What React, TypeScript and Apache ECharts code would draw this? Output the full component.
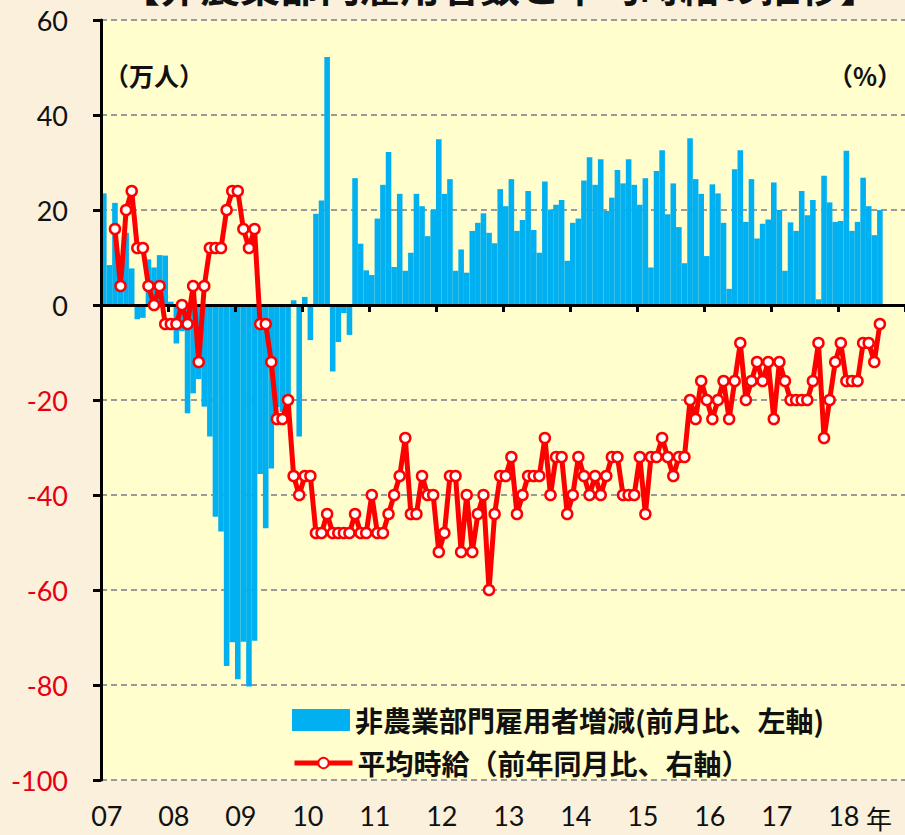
import React, { useEffect, useRef } from 'react';
import * as echarts from 'echarts';

// Year labels of the category axis (each year = 12 monthly categories, Jan 2007 - Dec 2018)
const yearLabels = ['07', '08', '09', '10', '11', '12', '13', '14', '15', '16', '17', '18'];

// 非農業部門雇用者増減 (前月比, 万人), Jan 2007 - Aug 2018
const payrollChange = [
  23.5, 8.4, 21.5, 8.0, 15.2, 7.7, -3.0, -2.7, 9.6, 7.9, 10.5, 10.4,
  0.7, -8.1, -5.5, -22.8, -18.6, -15.6, -21.4, -27.7, -44.6, -47.7, -76.0, -71.0,
  -78.8, -70.9, -80.3, -70.7, -35.6, -47.0, -34.4, -21.5, -22.5, -20.5, 1.0, -27.7,
  1.7, -7.4, 19.2, 22.0, 52.2, -14.0, -7.8, -1.7, -6.3, 26.7, 12.9, 7.3,
  6.3, 18.2, 25.3, 32.2, 8.0, 23.4, 7.2, 11.0, 23.4, 20.8, 14.5, 20.0,
  34.9, 23.4, 26.5, 7.2, 11.7, 6.8, 15.6, 17.3, 19.3, 15.2, 13.0, 24.4,
  20.8, 26.5, 15.6, 17.9, 24.0, 15.8, 11.0, 26.0, 20.1, 21.1, 22.1, 9.3,
  17.3, 18.2, 26.2, 31.1, 25.3, 30.7, 19.8, 22.6, 28.4, 25.6, 30.7, 25.3,
  21.1, 26.7, 7.9, 28.2, 32.6, 19.1, 25.6, 16.4, 8.8, 35.1, 26.5, 23.4,
  10.3, 25.4, 23.5, 17.3, 3.4, 28.6, 32.6, 17.5, 26.5, 14.0, 17.1, 18.0,
  25.8, 20.0, 7.2, 17.4, 15.6, 24.0, 18.9, 22.1, 1.2, 27.2, 21.6, 17.5,
  17.7, 32.5, 15.6, 17.5, 26.8, 20.8, 14.7, 20.0,
];

// 平均時給 (前年同月比, %), Jan 2007 - Aug 2018 (no value for the first two months)
const hourlyWageGrowth = [
  null, null, 3.4, 3.1, 3.5, 3.6, 3.3, 3.3, 3.1, 3.0, 3.1, 2.9,
  2.9, 2.9, 3.0, 2.9, 3.1, 2.7, 3.1, 3.3, 3.3, 3.3, 3.5, 3.6,
  3.6, 3.4, 3.3, 3.4, 2.9, 2.9, 2.7, 2.4, 2.4, 2.5, 2.1, 2.0,
  2.1, 2.1, 1.8, 1.8, 1.9, 1.8, 1.8, 1.8, 1.8, 1.9, 1.8, 1.8,
  2.0, 1.8, 1.8, 1.9, 2.0, 2.1, 2.3, 1.9, 1.9, 2.1, 2.0, 2.0,
  1.7, 1.8, 2.1, 2.1, 1.7, 2.0, 1.7, 1.9, 2.0, 1.5, 1.9, 2.1,
  2.1, 2.2, 1.9, 2.0, 2.1, 2.1, 2.1, 2.3, 2.0, 2.2, 2.2, 1.9,
  2.0, 2.2, 2.1, 2.0, 2.1, 2.0, 2.1, 2.2, 2.2, 2.0, 2.0, 2.0,
  2.2, 1.9, 2.2, 2.2, 2.3, 2.2, 2.1, 2.2, 2.2, 2.5, 2.4, 2.6,
  2.5, 2.4, 2.5, 2.6, 2.4, 2.6, 2.8, 2.5, 2.6, 2.7, 2.6, 2.7,
  2.4, 2.7, 2.6, 2.5, 2.5, 2.5, 2.5, 2.6, 2.8, 2.3, 2.5, 2.7,
  2.8, 2.6, 2.6, 2.6, 2.8, 2.8, 2.7, 2.9,
];

const barName = '非農業部門雇用者増減(前月比、左軸)';
const lineName = '平均時給（前年同月比、右軸）';
const titleText = '【非農業部門雇用者数と平均時給の推移】';
const leftUnit = '（万人）';
const rightUnit = '（%）';
const yearSuffix = '年';

const NUM_FONT = 'Lato, "Liberation Sans", sans-serif';
const JP_FONT = '"Noto Sans CJK JP", "Noto Sans", sans-serif';

const RED = '#FF0000';
const BLUE = '#00B0F0';

export default function App() {
  const ref = useRef<HTMLDivElement>(null);

  useEffect(() => {
    if (!ref.current) return;
    const chart = echarts.init(ref.current, undefined, { renderer: 'svg' });
    const categories = yearLabels.flatMap((y) =>
      Array.from({ length: 12 }, (_, m) => `${y}/${String(m + 1).padStart(2, '0')}`)
    );
    const yearStart = (i: number) => i % 12 === 0;
    const legendText = { fontSize: 28, fontFamily: JP_FONT, fontWeight: 'bold', color: '#111' };

    chart.setOption({
      animation: false,
      backgroundColor: '#FAF0DC',
      grid: {
        left: 101,
        top: 20,
        width: 806.4,
        height: 760,
        show: true,
        backgroundColor: '#FFFECC',
        borderWidth: 0,
      },
      legend: [
        {
          left: 287,
          top: 701,
          itemWidth: 58,
          itemHeight: 22,
          textStyle: legendText,
          data: [{ name: barName, icon: 'rect' }],
        },
        {
          left: 287,
          top: 744,
          itemWidth: 58,
          itemHeight: 13,
          textStyle: legendText,
          data: [{ name: lineName, lineStyle: { width: 5 } }],
        },
      ],
      graphic: [
        {
          type: 'text',
          style: {
            text: titleText,
            x: 500,
            y: 5,
            textAlign: 'center',
            textVerticalAlign: 'bottom',
            fontSize: 40,
            fontWeight: 'bold',
            fontFamily: JP_FONT,
            fill: '#111',
          },
        },
        {
          type: 'text',
          style: {
            text: leftUnit,
            x: 104,
            y: 75,
            textVerticalAlign: 'middle',
            fontSize: 25,
            fontWeight: 'bold',
            fontFamily: JP_FONT,
            fill: '#111',
          },
          z: 20,
        },
        {
          type: 'text',
          style: {
            text: rightUnit,
            x: 902,
            y: 75,
            textAlign: 'right',
            textVerticalAlign: 'middle',
            fontSize: 25,
            fontWeight: 'bold',
            fontFamily: JP_FONT,
            fill: '#111',
          },
          z: 20,
        },
        {
          type: 'text',
          style: {
            text: yearSuffix,
            x: 866,
            y: 817,
            textVerticalAlign: 'middle',
            fontSize: 26,
            fontFamily: JP_FONT,
            fill: '#111',
          },
        },
      ],
      xAxis: [
        {
          type: 'category',
          data: categories,
          boundaryGap: true,
          z: 10,
          axisLine: { show: true, onZero: true, lineStyle: { color: '#000', width: 3 } },
          axisTick: { show: true, interval: yearStart, length: 7, lineStyle: { color: '#000', width: 3 } },
          axisLabel: { show: false },
          splitLine: { show: false },
        },
        {
          type: 'category',
          data: categories,
          position: 'bottom',
          offset: 0,
          boundaryGap: true,
          axisLine: { show: false, onZero: false },
          axisTick: { show: false },
          axisLabel: {
            show: true,
            interval: yearStart,
            formatter: (v: string) => v.slice(0, 2),
            fontSize: 27,
            fontFamily: NUM_FONT,
            color: '#111',
            margin: 22,
            padding: [0, 0, 0, 6],
          },
          splitLine: { show: false },
        },
      ],
      yAxis: [
        {
          type: 'value',
          min: -100,
          max: 60,
          interval: 20,
          position: 'left',
          axisLine: { show: false },
          axisTick: { show: false },
          axisLabel: {
            margin: 33,
            fontSize: 27,
            fontFamily: NUM_FONT,
            color: (v: any) => (Number(v) < 0 ? '#E60012' : '#111'),
          },
          splitLine: { show: true, lineStyle: { type: [6, 4], color: '#9A9A9A', width: 2 } },
        },
        {
          type: 'value',
          min: 0.5,
          max: 4.5,
          interval: 0.5,
          position: 'right',
          show: false,
          splitLine: { show: false },
        },
        {
          type: 'value',
          min: -100,
          max: 60,
          interval: 20,
          position: 'left',
          offset: 0,
          z: 10,
          axisLine: { show: true, onZero: false, lineStyle: { color: '#000', width: 3 } },
          axisTick: { show: true, length: 8, lineStyle: { color: '#000', width: 3 } },
          axisLabel: { show: false },
          splitLine: { show: false },
        },
      ],
      series: [
        {
          name: barName,
          type: 'bar',
          xAxisIndex: 0,
          yAxisIndex: 0,
          data: payrollChange,
          barCategoryGap: '0%',
          itemStyle: { color: BLUE },
          z: 2,
        },
        {
          name: lineName,
          type: 'line',
          xAxisIndex: 0,
          yAxisIndex: 1,
          data: hourlyWageGrowth,
          connectNulls: false,
          symbol: 'circle',
          symbolSize: 10,
          showAllSymbol: true,
          lineStyle: { color: RED, width: 5 },
          itemStyle: { color: '#FFFFFF', borderColor: RED, borderWidth: 2.5 },
          z: 12,
        },
      ],
    });

    return () => chart.dispose();
  }, []);

  return (
    <div
      ref={ref}
      style={{ position: 'fixed', left: 0, top: 0, width: 905, height: 835 }}
    />
  );
}
